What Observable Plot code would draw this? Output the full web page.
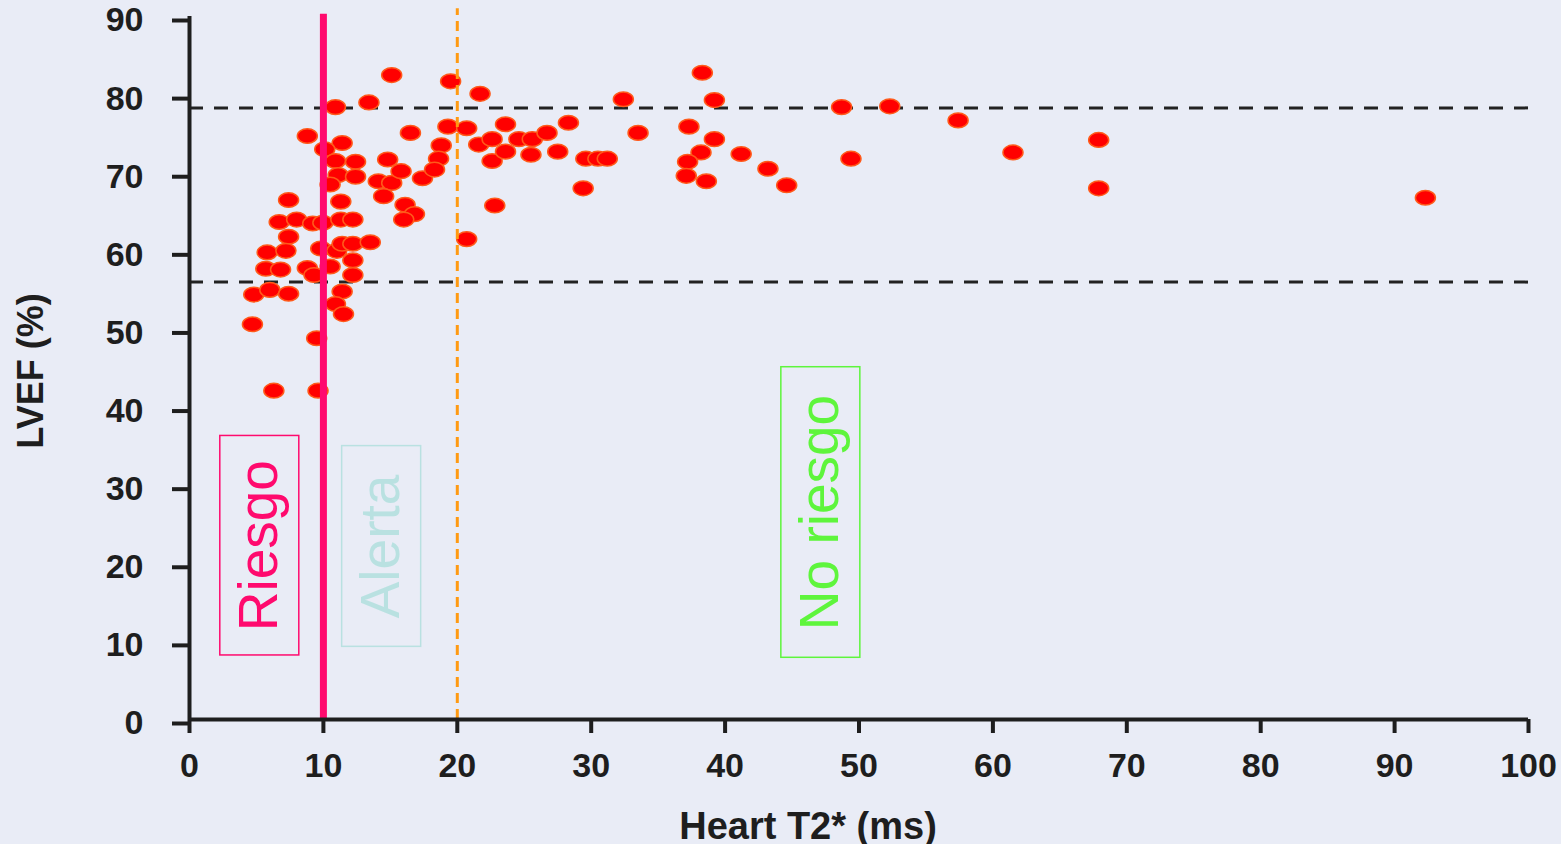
<!DOCTYPE html>
<html>
<head>
<meta charset="utf-8">
<script src="https://cdn.jsdelivr.net/npm/d3@7"></script>
<script src="https://cdn.jsdelivr.net/npm/@observablehq/plot@0.6"></script>
<style>
  html, body { margin: 0; padding: 0; background: #e9ecf6; overflow: hidden; }
  #chart svg { display: block; }
</style>
</head>
<body>
<div id="chart"></div>
<script>
// Heart T2* (ms)
const t2 = [
  15.1, 19.5, 21.7, 13.4, 10.9, 16.5, 19.3, 20.7, 8.8, 11.4,
  10.1, 18.8, 21.6, 10.9, 12.4, 14.8, 18.6, 11.1, 12.4, 10.5,
  14.1, 15.1, 15.8, 17.4, 18.3, 14.5, 16.1, 16.8, 16.0, 7.4,
  11.3, 6.7, 8.0, 9.2, 9.96, 11.3, 12.2, 7.4, 5.8, 7.2,
  9.8, 11.0, 11.4, 12.2, 13.5, 5.7, 6.8, 8.8, 9.3, 10.5,
  12.2, 12.2, 4.8, 6.0, 7.4, 11.4, 10.9, 11.5, 4.7, 9.5,
  6.3, 9.6,
  38.3, 32.4, 39.2, 48.7, 52.3, 23.6, 28.3, 22.6, 24.6, 25.6,
  26.7, 33.5, 37.3, 39.2, 22.6, 23.6, 25.5, 27.5, 29.6, 30.5,
  31.2, 38.2, 37.2, 37.1, 38.6, 41.2, 43.2, 44.6, 49.4, 29.4,
  22.8, 20.7,
  57.4, 61.5, 67.9, 67.9, 92.3
];
// LVEF (%)
const lvef = [
  82.5, 81.7, 80.1, 79.0, 78.4, 75.1, 75.9, 75.7, 74.7, 73.8,
  73.0, 73.5, 73.6, 71.5, 71.4, 71.7, 71.8, 69.7, 69.5, 68.5,
  68.9, 68.7, 70.2, 69.3, 70.4, 67.0, 65.9, 64.7, 64.0, 66.5,
  66.3, 63.7, 64.0, 63.5, 63.6, 64.0, 64.0, 61.8, 59.8, 60.0,
  60.3, 60.0, 60.9, 60.9, 61.1, 57.7, 57.6, 57.8, 56.9, 58.0,
  58.8, 56.9, 54.4, 55.0, 54.5, 54.8, 53.2, 51.9, 50.6, 48.8,
  42.1, 42.1,
  82.8, 79.4, 79.3, 78.4, 78.5, 76.2, 76.4, 74.3, 74.3, 74.3,
  75.1, 75.1, 75.9, 74.3, 71.5, 72.7, 72.3, 72.7, 71.8, 71.8,
  71.8, 72.6, 71.4, 69.6, 68.9, 72.4, 70.5, 68.4, 71.8, 68.0,
  65.8, 61.5,
  76.7, 72.6, 74.2, 68.0, 66.8
];
const xTicks = [0, 10, 20, 30, 40, 50, 60, 70, 80, 90, 100];
const yTicks = [0, 10, 20, 30, 40, 50, 60, 70, 80, 90];
const lvefLimits = [78.3, 56.0];     // dashed horizontal reference lines
const riskCutoff = [10];             // Heart T2* risk threshold
const alertCutoff = [20];            // Heart T2* alert threshold
const zoneNames = ["Riesgo", "Alerta", "No riesgo"];

// annotation boxes (data units)
const zones = [
  {name: zoneNames[0], x1: 2.3, x2: 8.2, y1: 8.2, y2: 36.3, color: "#ff0a6e"},
  {name: zoneNames[1], x1: 11.4, x2: 17.3, y1: 9.3, y2: 35.0, color: "#b9e1e1"},
  {name: zoneNames[2], x1: 44.2, x2: 50.1, y1: 7.9, y2: 45.1, color: "#5ef53c"}
];

const points = t2.map((x, i) => ({x, y: lvef[i]}));

const ellipse = {
  draw(context) {
    const rx = 10, ry = 7.3, k = 0.5523;
    context.moveTo(rx, 0);
    context.bezierCurveTo(rx, ry * k, rx * k, ry, 0, ry);
    context.bezierCurveTo(-rx * k, ry, -rx, ry * k, -rx, 0);
    context.bezierCurveTo(-rx, -ry * k, -rx * k, -ry, 0, -ry);
    context.bezierCurveTo(rx * k, -ry, rx, -ry * k, rx, 0);
    context.closePath();
  }
};

const font = "'Liberation Sans', Arial, sans-serif";

const chart = Plot.plot({
  width: 1561,
  height: 844,
  marginLeft: 189,
  marginRight: 33,
  marginTop: 16,
  marginBottom: 125,
  style: {background: "transparent", fontFamily: font, overflow: "visible"},
  x: {domain: [0, 100], ticks: xTicks},
  y: {domain: [0, 90], ticks: yTicks},
  marks: [
    Plot.ruleY(lvefLimits, {stroke: "#222", strokeWidth: 3, strokeDasharray: "14,11"}),
    Plot.rect(zones, {x1: "x1", x2: "x2", y1: "y1", y2: "y2", fill: "none", stroke: "color", strokeWidth: 1.5}),
    Plot.text(zones, {
      x: d => (d.x1 + d.x2) / 2, y: d => (d.y1 + d.y2) / 2,
      text: "name", rotate: -90, fill: "color",
      fontSize: 55, fontFamily: font, textAnchor: "middle", lineAnchor: "middle"
    }),
    Plot.dot(points, {x: "x", y: "y", symbol: ellipse, r: 8, fill: "#ff0000", stroke: "#ff5a1a", strokeWidth: 1.5}),
    Plot.ruleX(alertCutoff, {y1: 0, y2: 91, stroke: "#ff9a12", strokeWidth: 3, strokeDasharray: "10,6"}),
    Plot.ruleX(riskCutoff, {y1: 0, y2: 90.3, stroke: "#ff0a6e", strokeWidth: 7}),
    Plot.axisY({
      ticks: yTicks, tickSize: 17, tickPadding: 29, strokeWidth: 4, stroke: "#1e1e1e",
      fontSize: 34, fontWeight: "bold", fill: "#1e1e1e", dy: 4, label: null
    }),
    Plot.axisX({
      ticks: xTicks, tickSize: 14, tickPadding: 19, strokeWidth: 4, stroke: "#1e1e1e",
      fontSize: 34, fontWeight: "bold", fill: "#1e1e1e", label: null
    }),
    Plot.ruleY([0], {stroke: "#1e1e1e", strokeWidth: 4}),
    Plot.ruleX([0], {y1: 0, y2: 90, stroke: "#1e1e1e", strokeWidth: 4}),
    Plot.text(["LVEF (%)"], {
      frameAnchor: "left", dx: -158, dy: 3, rotate: -90, fontSize: 36, fontWeight: "bold",
      fill: "#1e1e1e", textAnchor: "middle", lineAnchor: "middle"
    }),
    Plot.text(["Heart T2* (ms)"], {
      frameAnchor: "bottom", dx: -51, dy: 119, fontSize: 38, fontWeight: "bold",
      fill: "#1e1e1e", textAnchor: "middle", lineAnchor: "bottom"
    })
  ]
});

document.getElementById("chart").append(chart);
</script>
</body>
</html>
